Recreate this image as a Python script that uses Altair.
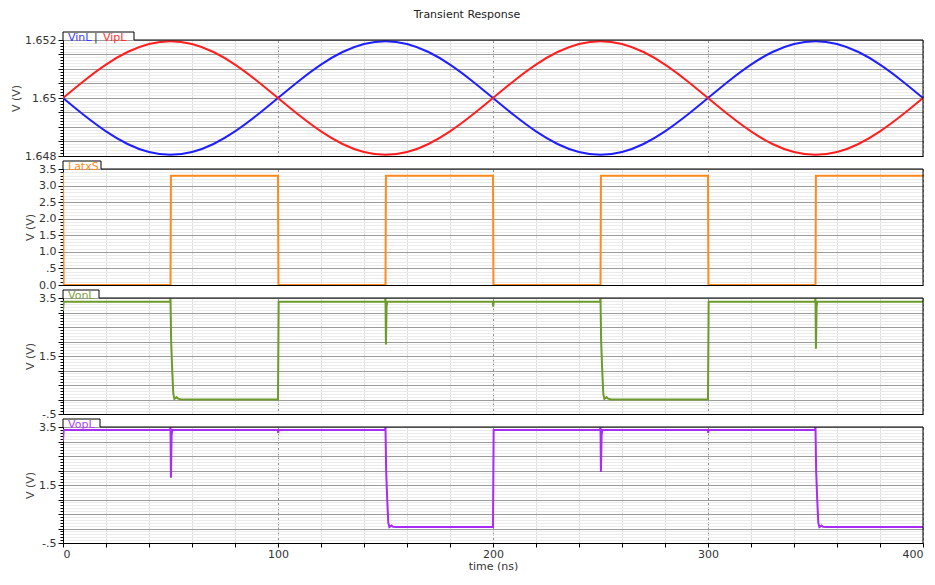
import altair as alt
import pandas as pd

# ---------------- data ----------------
t_sine = [0, 10, 20, 30, 40, 50, 60, 70, 80, 90, 100, 110, 120, 130, 140, 150, 160, 170, 180, 190, 200,
          210, 220, 230, 240, 250, 260, 270, 280, 290, 300, 310, 320, 330, 340, 350, 360, 370, 380, 390, 400]
vipl = [1.65, 1.650606, 1.651152, 1.651586, 1.651864, 1.65196, 1.651864, 1.651586, 1.651152, 1.650606,
        1.65, 1.649394, 1.648848, 1.648414, 1.648136, 1.64804, 1.648136, 1.648414, 1.648848, 1.649394,
        1.65, 1.650606, 1.651152, 1.651586, 1.651864, 1.65196, 1.651864, 1.651586, 1.651152, 1.650606,
        1.65, 1.649394, 1.648848, 1.648414, 1.648136, 1.64804, 1.648136, 1.648414, 1.648848, 1.649394, 1.65]
vinl = [1.65, 1.649394, 1.648848, 1.648414, 1.648136, 1.64804, 1.648136, 1.648414, 1.648848, 1.649394,
        1.65, 1.650606, 1.651152, 1.651586, 1.651864, 1.65196, 1.651864, 1.651586, 1.651152, 1.650606,
        1.65, 1.649394, 1.648848, 1.648414, 1.648136, 1.64804, 1.648136, 1.648414, 1.648848, 1.649394,
        1.65, 1.650606, 1.651152, 1.651586, 1.651864, 1.65196, 1.651864, 1.651586, 1.651152, 1.650606, 1.65]

t_latxs = [0, 0.3, 50, 50.2, 100, 100.1, 100.2, 150, 150.2, 200, 200.2, 250, 250.1, 250.2, 300, 300.2, 350, 350.2, 400]
v_latxs = [3.4, 0.0, 0.0, 3.3, 3.3, 1.6, 0.0, 0.0, 3.3, 3.3, 0.0, 0.0, 1.4, 3.3, 3.3, 0.0, 0.0, 3.3, 3.3]

t_vonl = [0, 0.3, 49.8, 50.0, 50.3, 50.8, 51.3, 51.8, 52.8, 53.5, 55, 100, 100.3,
          149.8, 150.0, 150.2, 150.5, 150.8, 199.9, 200.1, 200.3,
          249.8, 250.0, 250.3, 250.8, 251.3, 251.8, 252.8, 253.5, 255, 300, 300.3,
          349.8, 350.0, 350.2, 350.5, 350.8, 400]
v_vonl = [3.05, 3.37, 3.37, 3.5, 2.0, 1.0, 0.2, 0.02, 0.08, 0.03, 0.0, 0.0, 3.37,
          3.37, 3.5, 1.9, 3.2, 3.37, 3.37, 3.2, 3.37,
          3.37, 3.5, 2.0, 1.0, 0.2, 0.02, 0.08, 0.03, 0.0, 0.0, 3.37,
          3.37, 3.5, 1.75, 3.2, 3.37, 3.37]

t_vopl = [0, 0.3, 49.8, 50.0, 50.2, 50.5, 50.8, 99.9, 100.1, 100.3,
          149.8, 150.0, 150.3, 150.8, 151.3, 151.8, 152.8, 153.5, 155, 200, 200.3,
          249.8, 250.0, 250.2, 250.5, 250.8, 299.9, 300.1, 300.3,
          349.8, 350.0, 350.3, 350.8, 351.3, 351.8, 352.8, 353.5, 355, 400]
v_vopl = [3.0, 3.4, 3.4, 3.5, 1.75, 3.2, 3.4, 3.4, 3.3, 3.4,
          3.4, 3.5, 2.0, 1.0, 0.2, 0.05, 0.1, 0.06, 0.05, 0.05, 3.4,
          3.4, 3.5, 1.95, 3.2, 3.4, 3.4, 3.3, 3.4,
          3.4, 3.5, 2.0, 1.0, 0.2, 0.05, 0.1, 0.06, 0.05, 0.05]

x_ticks = [0, 20, 40, 60, 80, 100, 120, 140, 160, 180, 200, 220, 240, 260, 280, 300, 320, 340, 360, 380, 400]
y1_labels = [(1.648, "1.648"), (1.65, "1.65"), (1.652, "1.652")]
y2_labels = [(0.0, "0.0"), (0.5, ".5"), (1.0, "1.0"), (1.5, "1.5"), (2.0, "2.0"), (2.5, "2.5"), (3.0, "3.0"), (3.5, "3.5")]
y34_labels = [(3.5, "3.5"), (1.5, "1.5"), (-0.5, "-.5")]

# ---------------- styling ----------------
W, H = 860, 116
FONT = "DejaVu Sans"
one = pd.DataFrame({"k": [0]})


def steps(lo, hi, step):
    n = int(round((hi - lo) / step))
    return [round(lo + i * step, 6) for i in range(n + 1)]


def label_expr(pairs):
    expr = "''"
    for v, s in reversed(pairs):
        expr = f"abs(datum.value - ({v})) < 1e-7 ? '{s}' : ({expr})"
    return expr


def y_axis(vals, major_test, pairs):
    return alt.Axis(
        values=vals, grid=True,
        gridColor={"condition": {"test": major_test, "value": "#9c9c9c"}, "value": "#ebebeb"},
        gridWidth=1,
        tickColor="black",
        tickSize={"condition": {"test": major_test, "value": 5}, "value": 3},
        domainColor="black",
        labelExpr=label_expr(pairs), labelFlush=False, labelOverlap=False,
        labelFont=FONT, labelFontSize=11, labelColor="#333", labelPadding=2,
        title="V (V)", titleFont=FONT, titleFontSize=11, titleFontWeight="normal",
        titleColor="#444", titlePadding=3,
    )


def x_axis(bottom):
    grid_color = {"condition": {"test": "datum.value % 100 === 0", "value": "#8a8a8a"}, "value": "#e0e0e0"}
    grid_dash = {"condition": {"test": "datum.value % 100 === 0", "value": [3, 2]}, "value": []}
    if bottom:
        return alt.Axis(values=x_ticks, grid=True, gridColor=grid_color, gridDash=grid_dash,
                        domainColor="black", tickColor="black", tickSize=4,
                        labelExpr="datum.value % 100 === 0 ? datum.value : ''",
                        labelFlush=True, labelOverlap=False,
                        labelFont=FONT, labelFontSize=11, labelColor="#333", labelPadding=1,
                        title="time (ns)", titleFont=FONT, titleFontSize=11,
                        titleFontWeight="normal", titleColor="#333", titlePadding=1)
    return alt.Axis(values=x_ticks, grid=True, gridColor=grid_color, gridDash=grid_dash,
                    domainColor="black", ticks=False, labels=False, title=None)


def frame(tab_w, texts):
    parts = [
        alt.Chart(one).mark_rect(fill="white").encode(
            x=alt.value(0), x2=alt.value(tab_w), y=alt.value(-8), y2=alt.value(0)),
        alt.Chart(one).mark_rule(color="black").encode(
            x=alt.value(tab_w), x2=alt.value(W), y=alt.value(0)),
        alt.Chart(one).mark_rule(color="black").encode(
            x=alt.value(0), x2=alt.value(tab_w), y=alt.value(-8)),
        alt.Chart(one).mark_rule(color="black").encode(
            x=alt.value(tab_w), y=alt.value(-8), y2=alt.value(0)),
        alt.Chart(one).mark_rule(color="black").encode(
            x=alt.value(0), y=alt.value(-8), y2=alt.value(0)),
        alt.Chart(one).mark_rule(color="black").encode(
            x=alt.value(W), y=alt.value(0), y2=alt.value(H)),
    ]
    for xpos, txt, col in texts:
        parts.append(alt.Chart(one).mark_text(align="left", baseline="alphabetic", font=FONT,
                                              fontSize=11, color=col).encode(
            x=alt.value(xpos), y=alt.value(1), text=alt.value(txt)))
    return parts


def panel(series, domain, vals, major_test, pairs, tab_w, texts, bottom=False):
    layers = []
    for t, v, color, interp in series:
        df = pd.DataFrame({"t": t, "v": v})
        layers.append(
            alt.Chart(df).mark_line(color=color, strokeWidth=2, interpolate=interp, clip=True).encode(
                x=alt.X("t:Q", scale=alt.Scale(domain=[0, 400], nice=False, zero=False), axis=x_axis(bottom)),
                y=alt.Y("v:Q", scale=alt.Scale(domain=domain, nice=False, zero=False),
                        axis=y_axis(vals, major_test, pairs)),
            )
        )
    layers += frame(tab_w, texts)
    return alt.layer(*layers).properties(width=W, height=H)


p1 = panel([(t_sine, vinl, "#1f1fff", "natural"), (t_sine, vipl, "#ff1f1f", "natural")],
           [1.648, 1.652], steps(1.648, 1.652, 0.0001),
           "abs(datum.value*2000 - round(datum.value*2000)) < 1e-4", y1_labels,
           71, [(5, "VinL", "#3a3aff"), (31, "|", "#333"), (40, "VipL", "#ff3030")])
p2 = panel([(t_latxs, v_latxs, "#ff8a1e", "linear")],
           [0, 3.5], steps(0, 3.5, 0.1),
           "abs(datum.value*2 - round(datum.value*2)) < 1e-4", y2_labels,
           38, [(5, "LatxS", "#ff8a1e")])
p3 = panel([(t_vonl, v_vonl, "#6d9b2a", "linear")],
           [-0.5, 3.5], steps(-0.5, 3.5, 0.1),
           "abs(datum.value*2 - round(datum.value*2)) < 1e-4", y34_labels,
           36, [(5, "VonL", "#7ea03a")])
p4 = panel([(t_vopl, v_vopl, "#a82cf5", "linear")],
           [-0.5, 3.5], steps(-0.5, 3.5, 0.1),
           "abs(datum.value*2 - round(datum.value*2)) < 1e-4", y34_labels,
           37, [(5, "VopL", "#b040f5")], bottom=True)

chart = alt.vconcat(p1, p2, p3, p4, spacing=13, bounds="flush").properties(
    title=alt.TitleParams("Transient Response", font=FONT, fontSize=11, fontWeight="normal",
                          color="#222", anchor="middle", offset=12),
    padding={"left": 2, "top": 0, "right": 2, "bottom": 0},
).configure_view(stroke=None)

chart.save("out.html", embed_options={"renderer": "svg", "actions": False})
